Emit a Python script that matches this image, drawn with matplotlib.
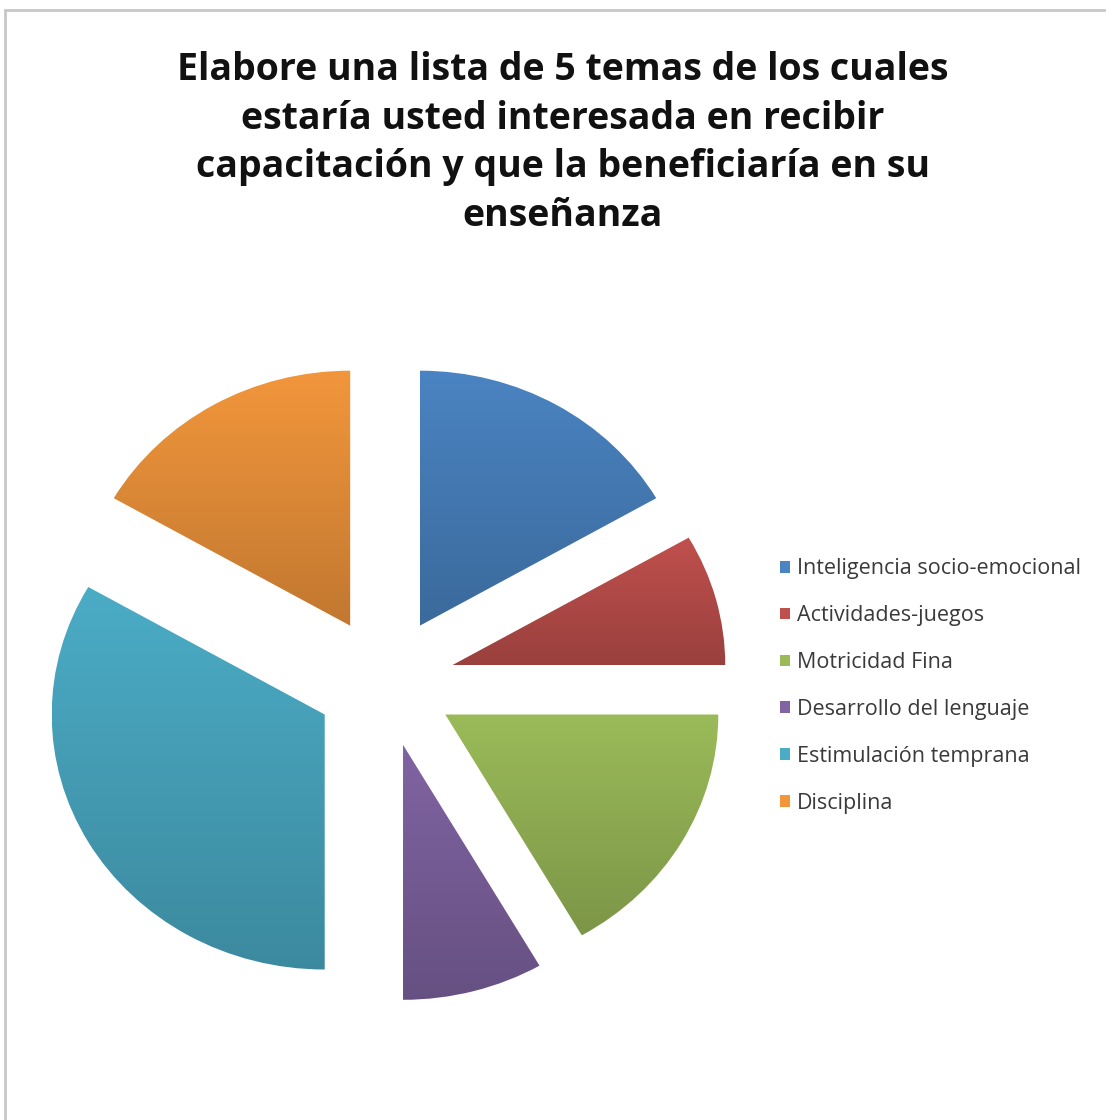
import numpy as np
import matplotlib
matplotlib.use('Agg')
import matplotlib.pyplot as plt
from matplotlib.colors import LinearSegmentedColormap, to_rgb
from matplotlib.patches import Patch, Rectangle

# 数据
temas = ['Inteligencia socio-emocional', 'Actividades-juegos', 'Motricidad Fina',
         'Desarrollo del lenguaje', 'Estimulación temprana', 'Disciplina']
valores = [2, 1, 2, 1, 4, 2]
colores = ['#4A84C2', '#C0504D', '#9BBB59', '#8064A2', '#4BACC6', '#F2963C']
titulo = ('Elabore una lista de 5 temas de los cuales\n'
          'estaría usted interesada en recibir\n'
          'capacitación y que la beneficiaría en su\n'
          'enseñanza')

plt.rcParams['font.family'] = ['Open Sans', 'DejaVu Sans']

fig = plt.figure(figsize=(11.06, 11.20), dpi=100)

# 外框
fig.patches.append(Rectangle((5 / 1106, -0.1), 1.2, 1.1 - 10 / 1120,
                             transform=fig.transFigure, fill=False,
                             edgecolor='#c8c8c8', linewidth=2))

# 饼图略微横向拉伸（横 273px / 竖 255px）
ax = fig.add_axes([(385 - 1.4 * 273) / 1106, (438 - 1.5 * 255) / 1120,
                   2.8 * 273 / 1106, 3.0 * 255 / 1120])
wedges, _ = ax.pie(valores, colors=colores, startangle=90, counterclock=False,
                   explode=[0.255] * len(valores), radius=1.0)
ax.axis('off')

# 渐变填充：上亮下暗
for w, c in zip(wedges, colores):
    base = np.array(to_rgb(c))
    dark = base * 0.80
    cmap = LinearSegmentedColormap.from_list('g', [dark, base])
    ext = w.get_path().get_extents()
    grad = np.linspace(0, 1, 256).reshape(-1, 1)
    im = ax.imshow(grad, cmap=cmap, origin='lower', aspect='auto',
                   extent=[ext.x0, ext.x1, ext.y0, ext.y1], zorder=2)
    im.set_clip_path(w)
    w.set_alpha(0)
ax.set_xlim(-1.4, 1.4)
ax.set_ylim(-1.5, 1.5)
ax.set_aspect('auto')

fig.text(563 / 1106, 1 - 143 / 1120, titulo, ha='center', va='center',
         fontsize=27, fontweight='bold', linespacing=1.37, color='#111111')

handles = [Patch(facecolor=c, edgecolor='none') for c in colores]
fig.legend(handles, temas, loc='center left', bbox_to_anchor=(761 / 1106, 1 - 686 / 1120),
           frameon=False, fontsize=15.5, handlelength=0.45, handleheight=0.45,
           handletextpad=0.3, labelspacing=1.2, labelcolor='#3a3a3a')

fig.savefig('out.png', dpi=100)
